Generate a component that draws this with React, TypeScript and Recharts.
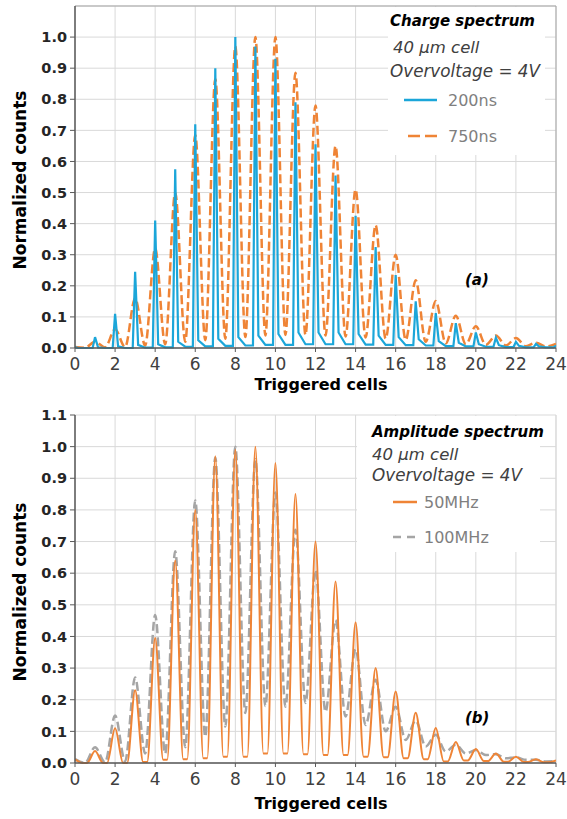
import { CartesianGrid, Line, LineChart, ReferenceLine, XAxis, YAxis } from 'recharts';

// triggered-cell positions (x) of every peak
const CELLS = [0, 1, 2, 3, 4, 5, 6, 7, 8, 9, 10, 11, 12, 13, 14, 15, 16, 17, 18, 19, 20, 21, 22, 23, 24];
const X_TICKS = [0, 2, 4, 6, 8, 10, 12, 14, 16, 18, 20, 22, 24];
const Y_TICKS_A = [0, 0.1, 0.2, 0.3, 0.4, 0.5, 0.6, 0.7, 0.8, 0.9, 1.0];
const Y_TICKS_B = [0, 0.1, 0.2, 0.3, 0.4, 0.5, 0.6, 0.7, 0.8, 0.9, 1.0, 1.1];

// (a) charge spectrum
const NS200_PEAKS = [0.003, 0.035, 0.11, 0.245, 0.41, 0.575, 0.72, 0.9, 1.0, 0.97, 0.93, 0.79, 0.655, 0.555, 0.425, 0.325, 0.235, 0.15, 0.112, 0.08, 0.05, 0.033, 0.02, 0.013, 0.008];
const NS200_SHOULDERS = [0, 0.002, 0.005, 0.01, 0.012, 0.02, 0.025, 0.03, 0.035, 0.04, 0.045, 0.05, 0.05, 0.05, 0.045, 0.04, 0.035, 0.028, 0.022, 0.017, 0.012, 0.009, 0.007, 0.005];
const NS200_TROUGHS = [0, 0, 0, 0.001, 0.002, 0.004, 0.005, 0.007, 0.008, 0.01, 0.01, 0.012, 0.012, 0.012, 0.011, 0.01, 0.009, 0.008, 0.006, 0.005, 0.004, 0.003, 0.002, 0.002];
const NS750_PEAKS = [0.003, 0.02, 0.06, 0.16, 0.32, 0.5, 0.685, 0.865, 0.97, 1.0, 1.0, 0.885, 0.78, 0.65, 0.51, 0.395, 0.3, 0.218, 0.151, 0.104, 0.07, 0.04, 0.032, 0.017, 0.013];
const NS750_TROUGHS = [0.001, 0.002, 0.003, 0.008, 0.012, 0.02, 0.025, 0.03, 0.035, 0.04, 0.042, 0.042, 0.04, 0.037, 0.034, 0.03, 0.026, 0.02, 0.015, 0.012, 0.01, 0.008, 0.006, 0.005];

// (b) amplitude spectrum
const MHZ50_PEAKS = [0.012, 0.038, 0.11, 0.23, 0.395, 0.64, 0.8, 0.97, 0.99, 1.0, 0.948, 0.85, 0.7, 0.574, 0.444, 0.3, 0.226, 0.159, 0.111, 0.066, 0.044, 0.03, 0.02, 0.012, 0.008];
const MHZ50_TROUGHS = [0, 0, 0, 0.003, 0.01, 0.012, 0.015, 0.02, 0.02, 0.03, 0.03, 0.028, 0.025, 0.025, 0.02, 0.018, 0.015, 0.012, 0.005, 0.008, 0.006, 0.004, 0.003, 0.002];
const MHZ100_PEAKS = [0.012, 0.05, 0.15, 0.27, 0.468, 0.669, 0.83, 0.965, 1.0, 0.96, 0.855, 0.737, 0.61, 0.452, 0.36, 0.263, 0.178, 0.134, 0.089, 0.058, 0.041, 0.028, 0.018, 0.01, 0.006];
const MHZ100_TROUGHS = [0, 0.002, 0.005, 0.03, 0.03, 0.05, 0.083, 0.115, 0.158, 0.18, 0.178, 0.19, 0.162, 0.147, 0.12, 0.1, 0.073, 0.052, 0.036, 0.03, 0.025, 0.015, 0.01, 0.005];

const SERIES_A = ['200ns', '750ns'];
const SERIES_B = ['50MHz', '100MHz'];

type Row = { x: number; y: number };

// narrow spike: steep rise, fast drop to a shoulder, then down to the trough
function spikeRows(peaks: number[], shoulders: number[], troughs: number[]): Row[] {
  const rows: Row[] = [];
  CELLS.forEach((c, i) => {
    if (i > 0) rows.push({ x: c - 0.12, y: troughs[i - 1] });
    rows.push({ x: c, y: peaks[i] });
    if (i < CELLS.length - 1) {
      rows.push({ x: c + 0.15, y: shoulders[i] });
      rows.push({ x: c + 0.5, y: troughs[i] });
    }
  });
  return rows;
}

function peakRows(peaks: number[], troughs: number[], hw: number): Row[] {
  const rows: Row[] = [];
  CELLS.forEach((c, i) => {
    if (i > 0 && hw < 0.5) rows.push({ x: c - hw, y: troughs[i - 1] });
    rows.push({ x: c, y: peaks[i] });
    if (i < CELLS.length - 1) rows.push({ x: c + hw, y: troughs[i] });
  });
  return rows;
}

const ns200 = spikeRows(NS200_PEAKS, NS200_SHOULDERS, NS200_TROUGHS);
const ns750 = peakRows(NS750_PEAKS, NS750_TROUGHS, 0.5);
const mhz50 = peakRows(MHZ50_PEAKS, MHZ50_TROUGHS, 0.4);
const mhz100 = peakRows(MHZ100_PEAKS, MHZ100_TROUGHS, 0.5);

const BLUE = '#1ba6d9';
const ORANGE = '#ef8436';
const GRAY = '#a5a5a5';
const FONT = 'DejaVu Sans';

const xTick = { fontFamily: FONT, fontSize: 17, fill: '#404040' };
const yTick = { fontFamily: FONT, fontSize: 14.5, fontWeight: 'bold', fill: '#262626' };
const fmt = (v: number) => v.toFixed(1);

export default function App() {
  const xAxisProps = {
    type: 'number' as const,
    dataKey: 'x',
    domain: [0, 24],
    ticks: X_TICKS,
    tick: xTick,
    tickSize: 4,
    tickMargin: 6,
    tickLine: { stroke: '#595959' },
    axisLine: { stroke: '#595959', strokeWidth: 1.5 },
    height: 30,
    allowDataOverflow: true,
  };
  const yAxisProps = {
    type: 'number' as const,
    domain: [0, 1.1],
    tickFormatter: fmt,
    tick: yTick,
    tickSize: 5,
    tickMargin: 3,
    tickLine: { stroke: '#595959' },
    axisLine: { stroke: '#595959', strokeWidth: 1.5 },
    width: 75,
  };
  return (
    <div style={{ position: 'absolute', left: 0, top: 0, width: 567, height: 819, background: '#fff' }}>
      <LineChart width={567} height={400} margin={{ top: 6, right: 11, bottom: 22, left: 0 }}>
        <CartesianGrid stroke="#d9d9d9" />
        <XAxis {...xAxisProps} />
        <YAxis {...yAxisProps} ticks={Y_TICKS_A} />
        <ReferenceLine y={1.1} stroke="#a6a6a6" />
        <ReferenceLine x={24} stroke="#a6a6a6" />
        <Line data={ns750} dataKey="y" type="monotone" stroke={ORANGE} strokeWidth={2.5} strokeDasharray="9 4" dot={false} isAnimationActive={false} />
        <Line data={ns200} dataKey="y" type="linear" stroke={BLUE} strokeWidth={2.2} dot={false} isAnimationActive={false} />
      </LineChart>
      <LineChart width={567} height={419} margin={{ top: 15, right: 11, bottom: 26, left: 0 }}>
        <CartesianGrid stroke="#d9d9d9" />
        <XAxis {...xAxisProps} />
        <YAxis {...yAxisProps} ticks={Y_TICKS_B} />
        <ReferenceLine x={24} stroke="#d9d9d9" />
        <Line data={mhz100} dataKey="y" type="monotone" stroke={GRAY} strokeWidth={2.5} strokeDasharray="9 4" dot={false} isAnimationActive={false} />
        <Line data={mhz50} dataKey="y" type="monotone" stroke={ORANGE} strokeWidth={2} dot={false} isAnimationActive={false} />
      </LineChart>
      <svg width={567} height={819} style={{ position: 'absolute', left: 0, top: 0, pointerEvents: 'none' }} fontFamily={FONT}>
        {/* axis titles */}
        <text x={321} y={390} textAnchor="middle" fontSize={16} fontWeight="bold" fill="#000">Triggered cells</text>
        <text x={321} y={809} textAnchor="middle" fontSize={16} fontWeight="bold" fill="#000">Triggered cells</text>
        <text transform="translate(26,180) rotate(-90)" textAnchor="middle" fontSize={17} fontWeight="bold" fill="#000">Normalized counts</text>
        <text transform="translate(26,592) rotate(-90)" textAnchor="middle" fontSize={17} fontWeight="bold" fill="#000">Normalized counts</text>

        {/* legend (a) */}
        <rect x={388} y={7} width={157} height={148} fill="#fff" />
        <text x={390} y={26} fontSize={15} fontWeight="bold" fontStyle="italic" fill="#000">Charge spectrum</text>
        <text x={393} y={53} fontSize={16.5} fontStyle="italic" fill="#404040">40 µm cell</text>
        <text x={390} y={77} fontSize={16.8} fontStyle="italic" fill="#404040">Overvoltage = 4V</text>
        <line x1={404} x2={437} y1={100} y2={100} stroke={BLUE} strokeWidth={2.5} />
        <text x={448} y={106} fontSize={16} fill="#7f7f7f">{SERIES_A[0]}</text>
        <line x1={408} x2={437} y1={136} y2={136} stroke={ORANGE} strokeWidth={2.5} strokeDasharray="12 5" />
        <text x={448} y={142} fontSize={16} fill="#7f7f7f">{SERIES_A[1]}</text>
        <text x={465} y={285} fontSize={15} fontWeight="bold" fontStyle="italic" fill="#000">(a)</text>

        {/* legend (b) */}
        <rect x={357} y={416} width={183} height={136} fill="#fff" />
        <text x={372} y={437} fontSize={15} fontWeight="bold" fontStyle="italic" fill="#000">Amplitude spectrum</text>
        <text x={372} y={460} fontSize={16.5} fontStyle="italic" fill="#404040">40 µm cell</text>
        <text x={372} y={481} fontSize={16.8} fontStyle="italic" fill="#404040">Overvoltage = 4V</text>
        <line x1={393} x2={417} y1={502} y2={502} stroke={ORANGE} strokeWidth={2.5} />
        <text x={424} y={508} fontSize={16} fill="#7f7f7f">{SERIES_B[0]}</text>
        <line x1={393} x2={417} y1={537} y2={537} stroke={GRAY} strokeWidth={2.5} strokeDasharray="8 6" />
        <text x={424} y={543} fontSize={16} fill="#7f7f7f">{SERIES_B[1]}</text>
        <text x={465} y={723} fontSize={15} fontWeight="bold" fontStyle="italic" fill="#000">(b)</text>
      </svg>
    </div>
  );
}
